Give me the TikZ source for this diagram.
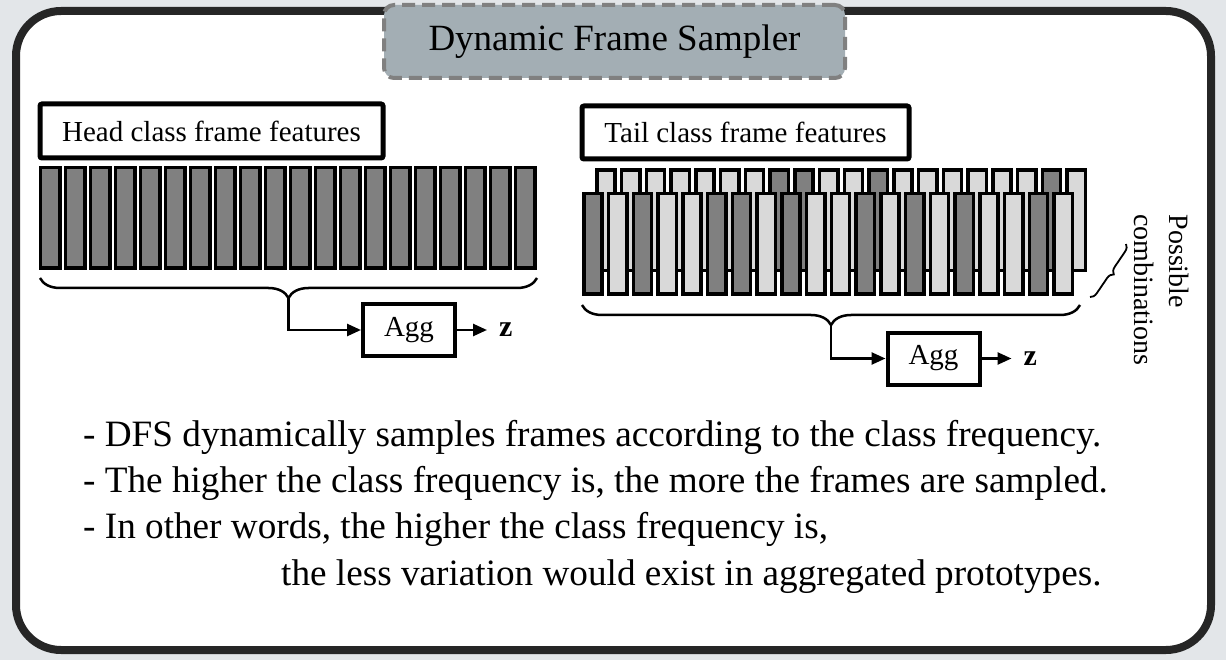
\documentclass[tikz,border=0pt]{standalone}
\usepackage{fontspec}
\setmainfont{Liberation Serif}
\usetikzlibrary{positioning, calc, arrows.meta, decorations.pathreplacing}
\definecolor{panelBack}{RGB}{227,230,233}
\definecolor{frameInk}{RGB}{38,38,38}
\definecolor{titleFill}{RGB}{163,174,180}
\definecolor{dashGray}{RGB}{128,128,128}
\definecolor{bardk}{RGB}{128,128,128}
\definecolor{barlt}{RGB}{217,217,217}

\begin{document}
\begin{tikzpicture}[
    x=1pt, y=-1pt,
    >={Triangle[length=14pt, width=12pt]}, % punta triangular rellena
    titlebox/.style={draw=dashGray, fill=titleFill, line width=4pt, dash pattern=on 13pt off 7pt,
        rounded corners=10pt, minimum width=461pt, minimum height=73pt, font=\fontsize{37}{44}\selectfont},
    labelbox/.style={draw=black, line width=5pt, rounded corners=2pt, fill=white,
        font=\fontsize{29}{35}\selectfont},
    bar/.style={draw=black, line width=3.5pt, inner sep=0pt, minimum width=19.5pt, minimum height=100.5pt},
    headbar/.style={bar, fill=bardk},
    tailbar/.style={bar, minimum width=18.2pt},
    featbrace/.style={decorate, decoration={brace, mirror, amplitude=20pt}, line width=2.5pt},
    smallbrace/.style={decorate, decoration={brace, mirror, amplitude=7pt}, line width=1.8pt},
    aggbox/.style={draw=black, line width=4pt, minimum width=92pt, minimum height=52pt,
        font=\fontsize{29}{34}\selectfont},
    zlabel/.style={inner xsep=12pt, font=\fontsize{30}{34}\selectfont\bfseries},
    conn/.style={line width=2.5pt},
    bullet/.style={anchor=base west, inner sep=0pt, font=\fontsize{37.2}{46}\selectfont},
    combos/.style={rotate=-90, align=left, inner sep=0pt, font=\fontsize{28}{35}\selectfont}
]
    \fill[panelBack] (0,0) rectangle (1226,660);
    \useasboundingbox (0,0) rectangle (1226,660);

    % 1. Marco exterior y titulo
    \draw[line width=8pt, draw=frameInk, fill=white, rounded corners=45pt] (16,11) rectangle (1211,650);
    \node[titlebox] (title) at (614.5,41.5) {Dynamic Frame Sampler};

    % 2. Clase head: etiqueta y barras
    \node[labelbox, minimum width=343pt, minimum height=54pt] (headlabel) at (211.5,131) {Head class frame features};
    \foreach \i in {0,...,19}
        \node[headbar] (hb\i) at ({50+25*\i},218) {};

    % 3. Clase tail: etiqueta, fila trasera y fila delantera
    \node[labelbox, minimum width=327pt, minimum height=53pt] (taillabel) at (745.5,132.5) {Tail class frame features};
    \foreach \c [count=\i from 0] in {lt,lt,lt,lt,lt,lt,lt,dk,dk,lt,lt,dk,lt,lt,lt,lt,lt,lt,dk,lt}
        \node[tailbar, fill=bar\c] (tb\i) at ({606+24.75*\i},220.5) {};
    \foreach \c [count=\i from 0] in {dk,lt,dk,lt,lt,dk,dk,lt,dk,lt,lt,dk,lt,dk,lt,dk,lt,lt,dk,lt}
        \node[tailbar, fill=bar\c] (tf\i) at ({593+24.75*\i},244) {};

    % 4. Llaves y agregacion
    \coordinate (headL) at (40,278);
    \coordinate (headR) at (537,278);
    \draw[featbrace] (headL) -- (headR);
    \coordinate (headtip) at ($(headL)!0.5!(headR)+(0,20)$);
    \node[aggbox] (agg1) at (409,330) {Agg};
    \node[zlabel, right=30pt of agg1] (z1) {z};
    \draw[->, conn] (headtip) |- (agg1);
    \draw[->, conn] (agg1) -- (z1);

    \coordinate (tailL) at (582,305);
    \coordinate (tailR) at (1080,305);
    \draw[featbrace] (tailL) -- (tailR);
    \coordinate (tailtip) at ($(tailL)!0.5!(tailR)+(0,20)$);
    \node[aggbox] (agg2) at (933.5,358.5) {Agg};
    \node[zlabel, right=30pt of agg2] (z2) {z};
    \draw[->, conn] (tailtip) |- (agg2);
    \draw[->, conn] (agg2) -- (z2);

    % 5. Combinaciones posibles
    \coordinate (comboA) at (1090,297);
    \coordinate (comboB) at (1126,244);
    \draw[smallbrace] (comboA) -- (comboB);
    \node[combos] (combo) at (1162,290) {Possible\\combinations};

    % 6. Texto explicativo
    \node[bullet] (line1) at (83,446) {- DFS dynamically samples frames according to the class frequency.};
    \node[bullet] (line2) at (83,492) {- The higher the class frequency is, the more the frames are sampled.};
    \node[bullet] (line3) at (83,538) {- In other words, the higher the class frequency is,};
    \node[bullet] (line4) at (281,585) {the less variation would exist in aggregated prototypes.};
\end{tikzpicture}
\end{document}
